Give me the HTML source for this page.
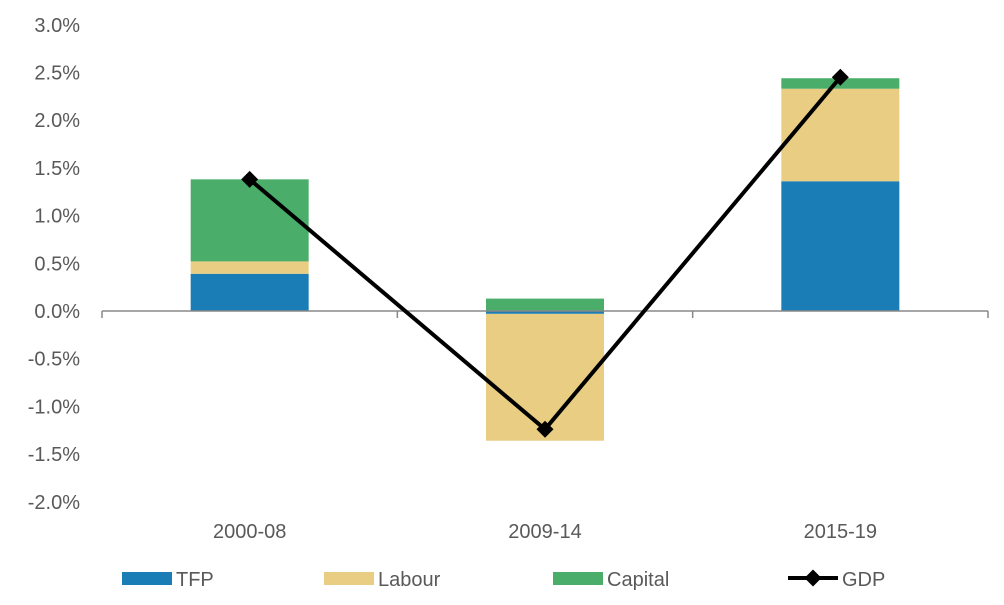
<!DOCTYPE html>
<html><head><meta charset="utf-8"><style>
body{margin:0;background:#fff;}
svg text{font-family:"Liberation Sans",sans-serif;fill:#595959;font-size:20px;}
</style></head><body>
<svg width="1004" height="600" id="chart"></svg>
<script>
const categories=["2000-08","2009-14","2015-19"];
const tfp=[0.39,-0.03,1.36];
const labour=[0.13,-1.33,0.97];
const capital=[0.86,0.13,0.11];
const gdp=[1.38,-1.24,2.45];
const yTicks=[3.0,2.5,2.0,1.5,1.0,0.5,0.0,-0.5,-1.0,-1.5,-2.0];
const seriesNames=["TFP","Labour","Capital","GDP"];
const colors={TFP:"#1a7db5",Labour:"#e9cd82",Capital:"#4aae6a",GDP:"#000"};
const svg=document.getElementById('chart');
const NS="http://www.w3.org/2000/svg";
const x0=102,x1=988;
const y=v=>311-v*95.4;
const band=(x1-x0)/categories.length;
const xc=i=>x0+band*(i+0.5);
const bw=118;
function mk(t,a){const e=document.createElementNS(NS,t);for(const k in a)e.setAttribute(k,a[k]);svg.appendChild(e);return e;}
yTicks.forEach(v=>{const t=mk('text',{x:80,y:y(v)+7,'text-anchor':'end'});t.textContent=v.toFixed(1)+'%';

});
categories.forEach((c,i)=>{
  let pos=0,neg=0;
  [["TFP",tfp],["Labour",labour],["Capital",capital]].forEach(([n,arr])=>{
    const v=arr[i];let a,b;
    if(v>=0){a=pos;b=pos+v;pos=b;}else{a=neg;b=neg+v;neg=b;}
    const r=mk('rect',{x:xc(i)-bw/2,y:Math.min(y(a),y(b)),width:bw,height:Math.abs(y(a)-y(b)),fill:colors[n]});
    
    
  });
  const t=mk('text',{x:xc(i),y:538,'text-anchor':'middle'});t.textContent=c;
  
  
});
const ax=mk('line',{x1:x0,x2:x1,y1:y(0),y2:y(0),stroke:'#888','stroke-width':1.5});


for(let i=0;i<=categories.length;i++){const tk=mk('line',{x1:x0+band*i,x2:x0+band*i,y1:y(0),y2:y(0)+7,stroke:'#888','stroke-width':1.5});

}
const pl=mk('polyline',{points:gdp.map((v,i)=>xc(i)+','+y(v)).join(' '),fill:'none',stroke:'#000','stroke-width':4});


gdp.forEach((v,i)=>{const m=mk('rect',{x:xc(i)-6,y:y(v)-6,width:12,height:12,fill:'#000',transform:`rotate(45 ${xc(i)} ${y(v)})`});

});
const lx=[122,324,553,788];
seriesNames.forEach((n,i)=>{
  if(n==="GDP"){const l=mk('line',{x1:lx[i],x2:lx[i]+50,y1:578,y2:578,stroke:'#000','stroke-width':4});
    
    
    const d=mk('rect',{x:lx[i]+19,y:572,width:12,height:12,fill:'#000',transform:`rotate(45 ${lx[i]+25} 578)`});
    
    
  }else{const r=mk('rect',{x:lx[i],y:572,width:50,height:13,fill:colors[n]});
    
    }
  const t=mk('text',{x:lx[i]+54,y:586});t.textContent=n;
  
  
});
</script>
</body></html>
